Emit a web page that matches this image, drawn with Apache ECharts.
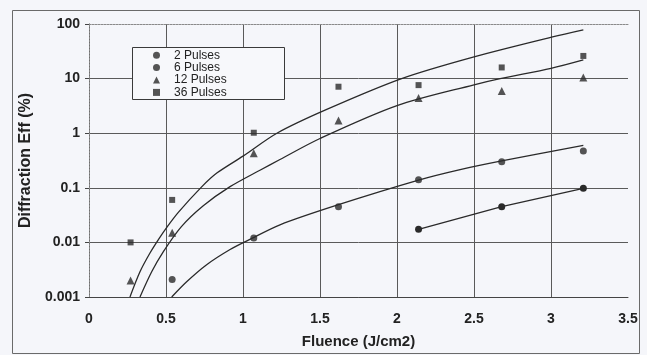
<!DOCTYPE html>
<html>
<head>
<meta charset="utf-8">
<script src="https://cdn.jsdelivr.net/npm/echarts@6/dist/echarts.min.js"></script>
<style>
  html, body { margin: 0; padding: 0; background: #f5f6fa; }
  #chart { width: 647px; height: 355px; }
</style>
</head>
<body>
<div id="chart"></div>
<script>
var dom = document.getElementById('chart');
var myChart = echarts.init(dom, null, { renderer: 'canvas' });

// measured points (Fluence J/cm2 -> Diffraction Eff %)
var fluence = [0.27, 0.54, 1.07, 1.62, 2.14, 2.68, 3.21];
var eff36 = [0.01, 0.06, 1.02, 7.1, 7.6, 16, 26];
var eff12 = [0.002, 0.015, 0.43, 1.7, 4.4, 5.9, 10.5];
var eff6 = [null, 0.0021, 0.012, 0.045, 0.14, 0.30, 0.47];
var eff2 = [null, null, null, null, 0.0174, 0.045, 0.098];

// fitted curves
var fit36X = [0.266, 0.331, 0.396, 0.457, 0.504, 0.58, 0.73, 0.83, 1.0, 1.22, 1.54, 2.03, 2.5, 3.01, 3.21];
var fit36Y = [0.001, 0.0029, 0.0064, 0.012, 0.0187, 0.0355, 0.103, 0.186, 0.38, 1.0, 2.7, 10, 25, 58, 78];
var fit12X = [0.331, 0.407, 0.483, 0.60, 0.742, 0.916, 1.11, 1.24, 1.5, 2.0, 2.5, 2.67, 3.0, 3.21];
var fit12Y = [0.001, 0.0029, 0.0068, 0.0195, 0.047, 0.105, 0.21, 0.33, 0.8, 3.2, 7.7, 10, 15.4, 22];
var fit6X = [0.537, 0.634, 0.764, 0.916, 1.035, 1.24, 1.61, 2.14, 2.41, 2.68, 3.21];
var fit6Y = [0.001, 0.0019, 0.0039, 0.0074, 0.011, 0.021, 0.048, 0.138, 0.215, 0.31, 0.6];

var xTicks = [0, 0.5, 1, 1.5, 2, 2.5, 3, 3.5];
var yTicks = ['0.001', '0.01', '0.1', '1', '10', '100'];
var legendNames = ['2 Pulses', '6 Pulses', '12 Pulses', '36 Pulses'];

var ink = '#2a2a2a';
var gridColor = '#5a5a5a';
var fontFamily = '"Liberation Sans", Arial, sans-serif';

function pairs(xs, ys) {
    var out = [];
    for (var i = 0; i < xs.length; i++) {
        if (ys[i] != null) out.push([xs[i], ys[i]]);
    }
    return out;
}

function fitLine(name, xs, ys) {
    return {
        name: name,
        type: 'line',
        data: pairs(xs, ys),
        showSymbol: false,
        smooth: 0.3,
        silent: true,
        lineStyle: { color: ink, width: 1.3 },
        z: 2
    };
}

var option = {
    backgroundColor: '#f5f6fa',
    animation: false,
    textStyle: { fontFamily: fontFamily },
    graphic: [{
        type: 'rect',
        shape: { x: 12.5, y: 10.5, width: 627, height: 343 },
        style: { fill: null, stroke: '#6a6a6a', lineWidth: 1 },
        silent: true
    }, {
        // legend frame
        type: 'rect',
        shape: { x: 132.5, y: 47.5, width: 152, height: 52 },
        style: { fill: '#f7f8fb', stroke: '#3a3a3a', lineWidth: 1 },
        silent: true,
        z: 5
    }],
    legend: {
        left: 153,
        top: 49,
        orient: 'vertical',
        padding: 0,
        itemWidth: 7,
        itemHeight: 7,
        itemGap: 0,
        z: 10,
        itemStyle: { color: ink },
        textStyle: { color: '#222', fontSize: 12, lineHeight: 12.4, fontFamily: fontFamily, padding: [0, 0, 0, 9] },
        data: [
            { name: legendNames[0], icon: 'circle', itemStyle: { color: '#555' } },
            { name: legendNames[1], icon: 'circle' },
            { name: legendNames[2], icon: 'triangle' },
            { name: legendNames[3], icon: 'rect' }
        ]
    },
    grid: { left: 89, right: 19, top: 24, bottom: 58 },
    xAxis: [{
        type: 'value',
        min: 0,
        max: 3.5,
        interval: 0.5,
        name: 'Fluence (J/cm2)',
        nameLocation: 'middle',
        nameGap: 37,
        nameTextStyle: { color: '#222', fontSize: 15, fontWeight: 'bold' },
        axisLine: { show: true, onZero: false, lineStyle: { color: '#444', width: 1 } },
        axisTick: { show: false },
        axisLabel: {
            color: '#222', fontSize: 14, fontWeight: 'bold', margin: 15,
            formatter: function (v) { return xTicks.indexOf(v) >= 0 ? String(v) : ''; }
        },
        splitLine: { show: true, showMaxLine: false, lineStyle: { color: gridColor, width: 1 } }
    }, {
        type: 'value',
        position: 'top',
        min: 0,
        max: 3.5,
        axisLine: { show: true, lineStyle: { color: '#8a8a8a', type: [2, 1] } },
        axisTick: { show: false },
        axisLabel: { show: false },
        splitLine: { show: false }
    }],
    yAxis: [{
        type: 'log',
        logBase: 10,
        min: 0.001,
        max: 100,
        name: 'Diffraction Eff (%)',
        nameLocation: 'middle',
        nameGap: 54,
        nameTextStyle: { color: '#222', fontSize: 16, fontWeight: 'bold' },
        axisLine: { show: true, lineStyle: { color: '#444', width: 1 } },
        axisTick: { show: true, length: 4, lineStyle: { color: '#444' } },
        axisLabel: {
            color: '#222', fontSize: 14, fontWeight: 'bold', margin: 9,
            formatter: function (v) {
                var e = Math.round(Math.log10(v));
                return yTicks[e + 3] || '';
            }
        },
        minorTick: { show: false },
        splitLine: { show: true, showMaxLine: false, lineStyle: { color: gridColor, width: 1 } }
    }, {
        type: 'log',
        logBase: 10,
        position: 'right',
        min: 0.001,
        max: 100,
        axisLine: { show: true, lineStyle: { color: '#8a8a8a', type: [2, 1] } },
        axisTick: { show: false },
        axisLabel: { show: false },
        splitLine: { show: false }
    }],
    series: [
        fitLine('fit36', fit36X, fit36Y),
        fitLine('fit12', fit12X, fit12Y),
        fitLine('fit6', fit6X, fit6Y),
        {
            name: legendNames[0],
            type: 'line',
            data: pairs(fluence, eff2),
            symbol: 'circle',
            symbolSize: 7,
            itemStyle: { color: ink },
            lineStyle: { color: ink, width: 1.3 },
            z: 3
        },
        {
            name: legendNames[1],
            type: 'scatter',
            data: pairs(fluence, eff6),
            symbol: 'circle',
            symbolSize: 7,
            itemStyle: { color: ink },
            z: 3
        },
        {
            name: legendNames[2],
            type: 'scatter',
            data: pairs(fluence, eff12),
            symbol: 'triangle',
            symbolSize: 8,
            itemStyle: { color: ink },
            z: 3
        },
        {
            name: legendNames[3],
            type: 'scatter',
            data: pairs(fluence, eff36),
            symbol: 'rect',
            symbolSize: 6,
            itemStyle: { color: ink },
            z: 3
        }
    ]
};

myChart.setOption(option);
window.addEventListener('resize', myChart.resize);
</script>
</body>
</html>
